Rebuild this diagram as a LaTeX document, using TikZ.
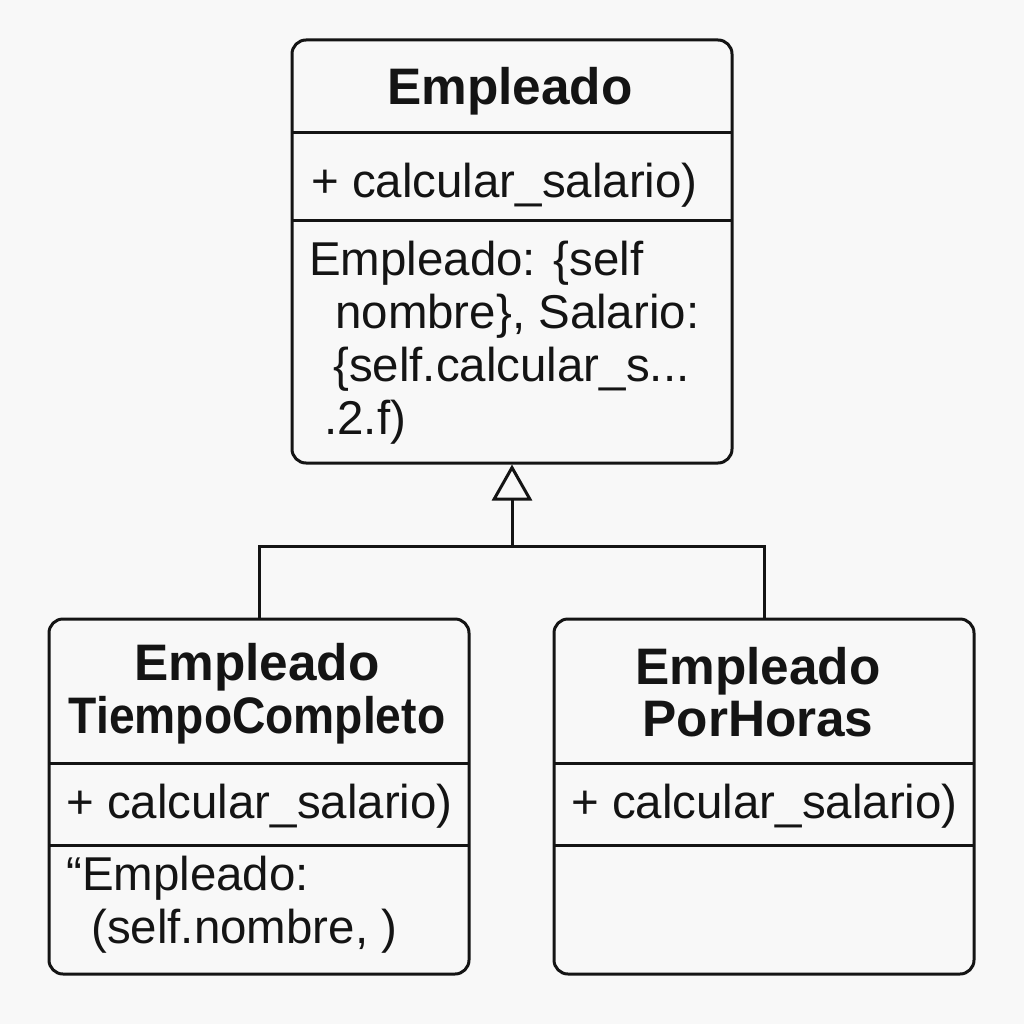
\documentclass[tikz,border=0pt]{standalone}
\usepackage{fontspec}
\setmainfont{Liberation Sans}
\usetikzlibrary{arrows.meta}
\definecolor{bgcol}{RGB}{248,248,248}
\definecolor{inkcol}{RGB}{20,20,20}

\begin{document}
\begin{tikzpicture}[x=0.75pt,y=0.75pt,yscale=-1,xscale=1,
	classbox/.style={draw=inkcol, line width=2.25pt, rounded corners=10.5pt, fill=bgcol, inner sep=0pt},
	ctitle/.style={text=inkcol, font=\fontsize{38.5}{40}\selectfont\bfseries, inner sep=0.75pt},
	cmember/.style={text=inkcol, font=\fontsize{35.6}{40}\selectfont, inner sep=0.75pt, anchor=west},
	divider/.style={draw=inkcol, line width=2.25pt},
	inherit/.style={draw=inkcol, line width=2.25pt}]
	\fill [bgcol] (0,0) rectangle (1024,1024);
	\useasboundingbox (0,0) rectangle (1024,1024);
	% boxes
	\node (emp) [classbox, minimum width=330pt, minimum height=317.25pt] at (512,251.5) {};
	\node (tc) [classbox, minimum width=315pt, minimum height=266.25pt] at (259,796.5) {};
	\node (ph) [classbox, minimum width=315pt, minimum height=266.25pt] at (764,796.5) {};
	\draw [divider] (292,132) -- (732,132) ;
	\draw [divider] (292,220) -- (732,220) ;
	\draw [divider] (49,763) -- (469,763) ;
	\draw [divider] (49,845) -- (469,845) ;
	\draw [divider] (554,763) -- (974,763) ;
	\draw [divider] (554,845) -- (974,845) ;
	% texts
	\node (empT) [ctitle] at (510,91) {Empleado};
	\node (empM) [cmember] at (310,185) {+ calcular\_salario)};
	\node (empA) [cmember] at (308,263) {Empleado: \{self};
	\node (empB) [cmember] at (334,316) {nombre\}, Salario:};
	\node (empC) [cmember] at (332,369) {\{self.calcular\_s...};
	\node (empD) [cmember] at (323,422) {.2.f)};
	\node (tcT) [ctitle, align=center] at (257,694) {Empleado\\[-0.5pt]\scalebox{0.9}[1]{TiempoCompleto}};
	\node (tcM) [cmember] at (65,806) {+ calcular\_salario)};
	\node (tcA) [cmember] at (65,878) {“Empleado:};
	\node (tcB) [cmember] at (90,931) {(self.nombre, )};
	\node (phT) [ctitle, align=center] at (758,692) {Empleado\\[-0.5pt]PorHoras};
	\node (phM) [cmember] at (570,806) {+ calcular\_salario)};
	% inheritance
	\coordinate (split) at (512,546);
	\draw [inherit] (tc.north) |- (split) -| (ph.north) ;
	\draw [inherit, -{Triangle[open, length=27pt, width=30pt, line width=2.25pt]}] (split) -- (emp.south) ;
\end{tikzpicture}
\end{document}
